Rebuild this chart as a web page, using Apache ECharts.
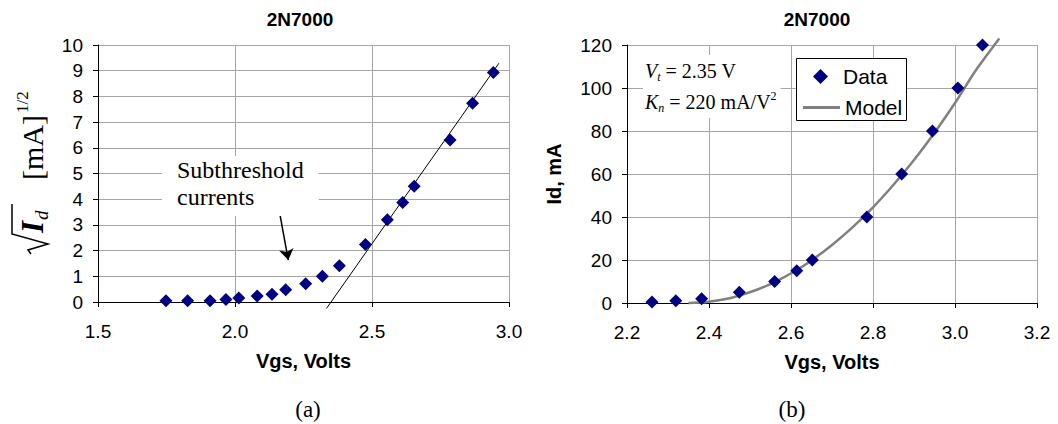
<!DOCTYPE html>
<html>
<head>
<meta charset="utf-8">
<script src="https://cdn.jsdelivr.net/npm/echarts@6/dist/echarts.min.js"></script>
<style>
html,body{margin:0;padding:0;background:#fff;}
#chart{width:1058px;height:424px;}
</style>
</head>
<body>
<div id="chart"></div>
<script>
// ---- Panel (a): sqrt(Id) vs Vgs ----
var vgsA = [1.748,1.827,1.909,1.967,2.014,2.081,2.135,2.185,2.258,2.319,2.381,2.476,2.556,2.612,2.654,2.785,2.867,2.943];
var sqrtIdA = [0.05,0.05,0.05,0.10,0.16,0.23,0.30,0.48,0.71,1.00,1.41,2.24,3.20,3.87,4.50,6.30,7.73,8.93];
var fitLineV = [2.334, 2.963];
var fitLineY = [-0.25, 9.29];
var arrowFrom = [2.152, 4.10];
var arrowTo = [2.1945, 1.63];

// ---- Panel (b): Id vs Vgs ----
var vgsB = [2.261,2.319,2.382,2.474,2.560,2.614,2.652,2.785,2.870,2.945,3.007,3.067];
var idB = [0.5,1,2,5,10,15,20,40,60,80,100,120];
var modelV = [2.35,2.39,2.435,2.47,2.52,2.56,2.61,2.65,2.70,2.75,2.80,2.85,2.90,2.95,3.00,3.05,3.108];
var modelId = [0,0.35,1.6,3.2,6.4,9.7,14.9,19.8,27,35.2,44.5,55,66.5,79.2,93,108,123];

function zip(a, b){ return a.map(function(v,i){ return [v, b[i]]; }); }

var SANS = '"Liberation Sans", Arial, sans-serif';
var SERIF = '"Liberation Serif", "Times New Roman", serif';
var GRID_C = '#a6a6a6';
var NAVY = '#000080';

function xAxisCfg(grid, min, max, interval, gap){
  return {
    gridIndex: grid, type: 'value', min: min, max: max, interval: interval,
    axisLine: {show: true, onZero: false, lineStyle: {color: '#000', width: 1}},
    axisTick: {show: true, inside: false, length: 5, lineStyle: {color: '#000'}},
    axisLabel: {formatter: function(v){ return v.toFixed(1); }, fontSize: 19, fontFamily: SANS, color: '#000', margin: 20},
    splitLine: {show: true, lineStyle: {color: GRID_C, width: 1}},
    name: 'Vgs, Volts', nameLocation: 'middle', nameGap: gap,
    nameTextStyle: {fontSize: 20, fontWeight: 'bold', fontFamily: SANS, color: '#000'}
  };
}
function yAxisCfg(grid, min, max, interval, name){
  var c = {
    gridIndex: grid, type: 'value', min: min, max: max, interval: interval,
    axisLine: {show: true, lineStyle: {color: '#000', width: 1}},
    axisTick: {show: true, inside: false, length: 5, lineStyle: {color: '#000'}},
    axisLabel: {fontSize: 19, fontFamily: SANS, color: '#000', margin: 15},
    splitLine: {show: true, lineStyle: {color: GRID_C, width: 1}}
  };
  if (name) {
    c.name = name; c.nameLocation = 'middle'; c.nameRotate = 90; c.nameGap = 63;
    c.nameTextStyle = {fontSize: 20, fontWeight: 'bold', fontFamily: SANS, color: '#000'};
  }
  return c;
}

var legendText = {fontSize: 21, fontFamily: SANS, color: '#000'};

var chart = echarts.init(document.getElementById('chart'), null, {renderer: 'svg'});

var option = {
  backgroundColor: '#fff',
  animation: false,
  title: [
    {text: '2N7000', left: 300, top: 10, textAlign: 'center', padding: 0,
     textStyle: {fontSize: 19, fontWeight: 'bold', fontFamily: SANS, color: '#000'}},
    {text: '2N7000', left: 817, top: 10, textAlign: 'center', padding: 0,
     textStyle: {fontSize: 19, fontWeight: 'bold', fontFamily: SANS, color: '#000'}},
    {text: '(a)', left: 308, top: 398, textAlign: 'center', padding: 0,
     textStyle: {fontSize: 23, fontWeight: 'normal', fontFamily: SERIF, color: '#000'}},
    {text: '(b)', left: 792, top: 398, textAlign: 'center', padding: 0,
     textStyle: {fontSize: 23, fontWeight: 'normal', fontFamily: SERIF, color: '#000'}}
  ],
  grid: [
    {left: 98, top: 45, width: 411, height: 257},
    {left: 627, top: 45, width: 410, height: 258}
  ],
  xAxis: [xAxisCfg(0, 1.5, 3.0, 0.5, 49), xAxisCfg(1, 2.2, 3.2, 0.2, 49)],
  yAxis: [yAxisCfg(0, 0, 10, 1, null), yAxisCfg(1, 0, 120, 20, 'Id, mA')],
  legend: [
    {
      orient: 'vertical', left: 813, top: 66, padding: 0,
      itemWidth: 15, itemHeight: 15, itemTextGap: 5,
      itemStyle: {opacity: 1},
      textStyle: {fontSize: 21, fontFamily: SANS, color: '#000', padding: [0, 0, 0, 10]}, z: 6,
      data: [{name: 'Data', icon: 'diamond'}]
    },
    {
      orient: 'vertical', left: 803, top: 97, padding: 0,
      itemWidth: 37, itemHeight: 3, itemTextGap: 3,
      textStyle: legendText, z: 6,
      data: [{name: 'Model', icon: 'rect'}]
    }
  ],
  series: [
    {
      name: 'sqrtData', type: 'scatter', xAxisIndex: 0, yAxisIndex: 0,
      symbol: 'diamond', symbolSize: 13, itemStyle: {color: NAVY, opacity: 1},
      data: zip(vgsA, sqrtIdA), z: 5
    },
    {
      name: 'fit', type: 'line', xAxisIndex: 0, yAxisIndex: 0, clip: false,
      symbol: 'none', lineStyle: {color: '#000', width: 1}, data: zip(fitLineV, fitLineY), z: 3,
      markLine: {
        silent: true, symbol: ['none', 'arrow'], symbolSize: 11, precision: 4,
        lineStyle: {color: '#000', width: 1.5, type: 'solid'},
        itemStyle: {color: '#000'},
        label: {show: false}, emphasis: {disabled: true},
        data: [[{coord: arrowFrom, symbol: 'none'}, {coord: arrowTo, symbol: 'arrow', symbolSize: 11}]]
      }
    },
    {
      name: 'Model', type: 'line', xAxisIndex: 1, yAxisIndex: 1, clip: false,
      symbol: 'none', smooth: 0.2, lineStyle: {color: '#808080', width: 2.5}, itemStyle: {color: '#808080'},
      data: zip(modelV, modelId), z: 3
    },
    {
      name: 'Data', type: 'scatter', xAxisIndex: 1, yAxisIndex: 1,
      symbol: 'diamond', symbolSize: 13, itemStyle: {color: NAVY, opacity: 1},
      data: zip(vgsB, idB), z: 5
    }
  ],
  graphic: [
    // legend frame
    {
      type: 'rect', left: 796, top: 58, z: 4,
      shape: {width: 110, height: 62},
      style: {fill: '#fff', stroke: '#000', lineWidth: 1}
    },
    // left y-axis title: sqrt(I_d) [mA]^(1/2), rotated
    {
      type: 'group', x: 43, y: 252, rotation: Math.PI / 2, z: 10,
      children: [
        {type: 'polyline', shape: {points: [[-2,-12],[2,-15],[8,5],[18,-31],[48,-31]]},
         style: {stroke: '#000', lineWidth: 1.5, fill: null}},
        {type: 'text', x: 19, y: -10.5, style: {text: 'I', font: 'italic bold 31px ' + SERIF, fill: '#000', verticalAlign: 'middle'}},
        {type: 'text', x: 32, y: -1.5, style: {text: 'd', font: 'italic 19px ' + SERIF, fill: '#000', verticalAlign: 'middle'}},
        {type: 'text', x: 72, y: -10.2, style: {text: '[mA]', font: '30px ' + SERIF, fill: '#000', verticalAlign: 'middle'}},
        {type: 'text', x: 139, y: -20.8, style: {text: '1/2', font: '17px ' + SERIF, fill: '#000', verticalAlign: 'middle'}}
      ]
    },
    // subthreshold annotation
    {
      type: 'text', left: 162, top: 156, z: 10,
      style: {
        text: 'Subthreshold\ncurrents', font: '24px ' + SERIF, fill: '#000', lineHeight: 27,
        backgroundColor: '#fff', padding: [0, 15, 6, 15]
      }
    },
    // model parameters annotation
    {
      type: 'text', left: 643, top: 55, z: 10,
      style: {
        text: '{i|V}{s|t}{n| = 2.35 V}\n{i|K}{s|n}{n| = 220 mA/V}{p|2}',
        backgroundColor: '#fff', padding: [0, 4, 1, 2],
        rich: {
          i: {font: 'italic 20px ' + SERIF, fill: '#000', lineHeight: 31},
          n: {font: '20px ' + SERIF, fill: '#000', lineHeight: 31},
          s: {font: 'italic 12px ' + SERIF, fill: '#000', lineHeight: 12, padding: [12, 0, 0, 0]},
          p: {font: '12px ' + SERIF, fill: '#000', lineHeight: 12, padding: [0, 0, 12, 0]}
        }
      }
    }
  ]
};
chart.setOption(option);
</script>
</body>
</html>
